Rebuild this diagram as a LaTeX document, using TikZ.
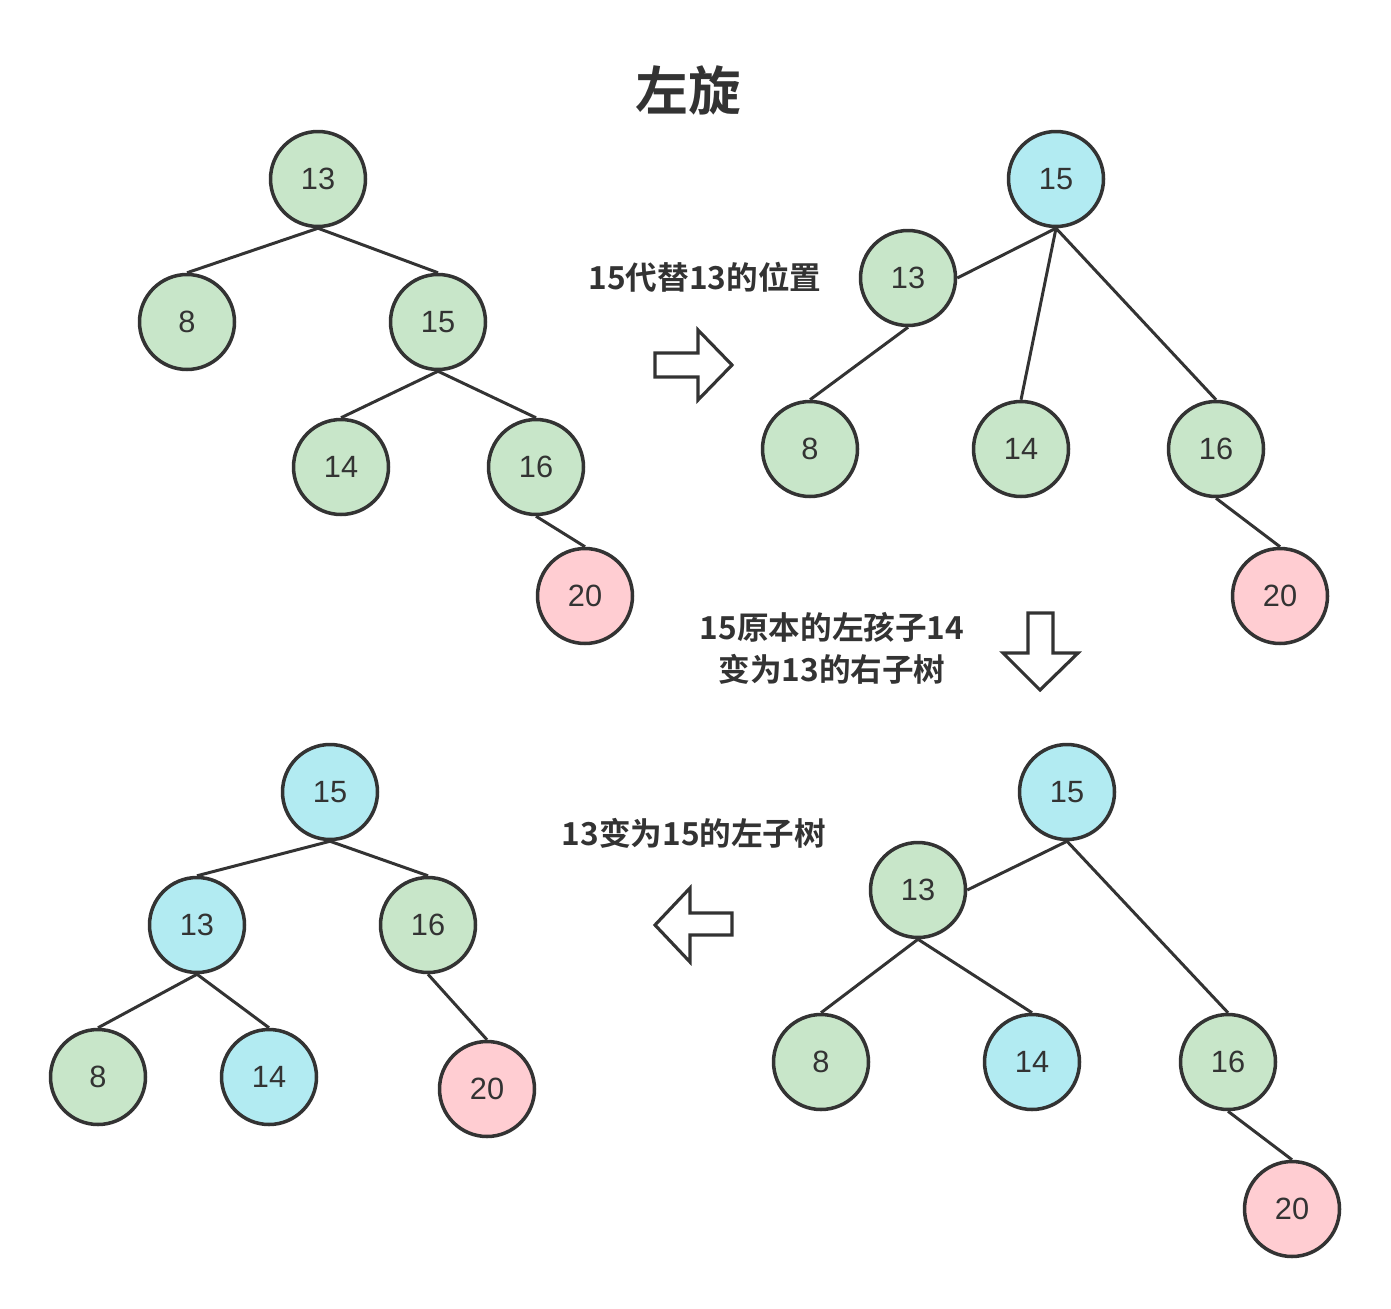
\documentclass[tikz,border=0pt]{standalone}
\usepackage{fontspec}
\setmainfont{Liberation Sans}
\newfontfamily\cjk{Noto Sans CJK SC}[BoldFont={* Bold}]
\usepackage{tikz}
\definecolor{leafgreen}{HTML}{C8E6C9}
\definecolor{movecyan}{HTML}{B2EBF2}
\definecolor{redpink}{HTML}{FFCDD2}
\definecolor{inkgray}{HTML}{333333}

\begin{document}
\begin{tikzpicture}[x=0.02cm,y=-0.02cm,line width=1.7pt,draw=inkgray]
\tikzstyle{every node}=[text=inkgray]
\tikzstyle{key}=[circle,draw=inkgray,line width=2pt,minimum size=1.9cm,inner sep=0pt,font=\fontsize{17.5}{20}\selectfont]
\tikzstyle{g}=[key,fill=leafgreen]
\tikzstyle{c}=[key,fill=movecyan]
\tikzstyle{r}=[key,fill=redpink]
\tikzstyle{note}=[font=\cjk\bfseries\fontsize{18}{24}\selectfont,align=center]
\tikzstyle{bigarrow}=[draw=inkgray,line width=1.8pt,fill=white,line join=miter]
\useasboundingbox (0,0) rectangle (1391,1308);

\node[font=\cjk\bfseries\fontsize{30}{32}\selectfont] (title) at (688,90) {左旋};

% before
\node[g] (a13) at (318,179) {13};
\node[g] (a8)  at (187,322) {8};
\node[g] (a15) at (438,322) {15};
\node[g] (a14) at (341,467) {14};
\node[g] (a16) at (536,467) {16};
\node[r] (a20) at (585,596) {20};
\draw (a13.south) -- (a8.north);
\draw (a13.south) -- (a15.north);
\draw (a15.south) -- (a14.north);
\draw (a15.south) -- (a16.north);
\draw (a16.south) -- (a20.north);

\node[note] (n1) at (705,277) {15代替13的位置};
\draw[bigarrow] (655,353) -- (698,353) -- (698,330) -- (732,365) -- (698,400) -- (698,377) -- (655,377) -- cycle;

% step 1
\node[c] (b15) at (1056,179) {15};
\node[g] (b13) at (908,278) {13};
\node[g] (b8)  at (810,449) {8};
\node[g] (b14) at (1021,449) {14};
\node[g] (b16) at (1216,449) {16};
\node[r] (b20) at (1280,596) {20};
\draw (b15.south) -- (b13.east);
\draw (b15.south) -- (b14.north);
\draw (b15.south) -- (b16.north);
\draw (b13.south) -- (b8.north);
\draw (b16.south) -- (b20.north);

\node[note] (n2) at (832,648) {15原本的左孩子14\\变为13的右子树};
\draw[bigarrow] (1028,613) -- (1053,613) -- (1053,653) -- (1078,653) -- (1040,690) -- (1003,653) -- (1028,653) -- cycle;

% step 2
\node[c] (c15) at (1067,792) {15};
\node[g] (c13) at (918,890) {13};
\node[g] (c8)  at (821,1062) {8};
\node[c] (c14) at (1032,1062) {14};
\node[g] (c16) at (1228,1062) {16};
\node[r] (c20) at (1292,1209) {20};
\draw (c15.south) -- (c13.east);
\draw (c15.south) -- (c16.north);
\draw (c13.south) -- (c8.north);
\draw (c13.south) -- (c14.north);
\draw (c16.south) -- (c20.north);

\node[note] (n3) at (694,833) {13变为15的左子树};
\draw[bigarrow] (732,913) -- (690,913) -- (690,888) -- (655,925) -- (690,962) -- (690,935) -- (732,935) -- cycle;

% after
\node[c] (d15) at (330,792) {15};
\node[c] (d13) at (197,925) {13};
\node[g] (d16) at (428,925) {16};
\node[g] (d8)  at (98,1077) {8};
\node[c] (d14) at (269,1077) {14};
\node[r] (d20) at (487,1089) {20};
\draw (d15.south) -- (d13.north);
\draw (d15.south) -- (d16.north);
\draw (d13.south) -- (d8.north);
\draw (d13.south) -- (d14.north);
\draw (d16.south) -- (d20.north);
\end{tikzpicture}
\end{document}
